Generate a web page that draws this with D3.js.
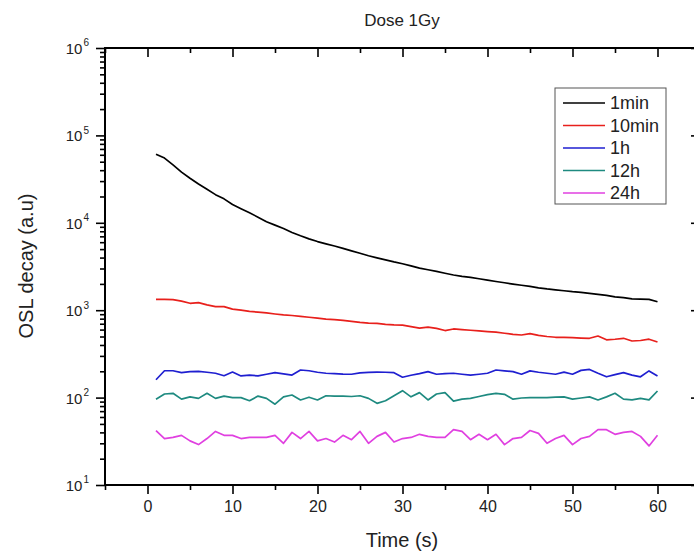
<!DOCTYPE html>
<html>
<head>
<meta charset="utf-8">
<script src="https://cdn.jsdelivr.net/npm/d3@7"></script>
<style>
  body { margin: 0; background: #fff; }
  svg { font-family: "Liberation Sans", Arial, sans-serif; }
</style>
</head>
<body>
<svg class="chart"></svg>
<script>
var times = d3.range(1, 61);

var seriesNames = ["1min", "10min", "1h", "12h", "24h"];
var seriesColors = ["#000000", "#e8201c", "#1f1fd0", "#1e8a80", "#e040e0"];

var min1 = [61000, 55000, 46000, 38000, 32300, 27800, 24200, 21000, 18800, 16200,
  14500, 13000, 11600, 10300, 9400, 8600, 7750, 7100, 6550, 6100,
  5750, 5420, 5100, 4780, 4480, 4200, 3970, 3770, 3570, 3400,
  3220, 3030, 2900, 2780, 2650, 2530, 2440, 2370, 2290, 2210,
  2130, 2060, 1990, 1930, 1870, 1800, 1750, 1710, 1670, 1630,
  1600, 1560, 1520, 1480, 1420, 1390, 1350, 1340, 1330, 1250];

var min10 = [1330, 1330, 1320, 1270, 1200, 1220, 1150, 1100, 1100, 1030,
  1000, 970, 950, 930, 905, 885, 870, 850, 830, 810,
  790, 780, 765, 745, 725, 712, 705, 690, 680, 675,
  650, 625, 640, 620, 585, 610, 600, 590, 580, 570,
  560, 545, 530, 520, 540, 515, 500, 490, 490, 485,
  480, 477, 507, 458, 465, 477, 444, 450, 466, 433];

var h1 = [160, 203, 203, 193, 198, 200, 195, 190, 178, 196,
  177, 181, 177, 185, 193, 187, 181, 207, 203, 195,
  190, 188, 186, 185, 192, 194, 196, 195, 193, 171,
  180, 188, 198, 185, 188, 190, 185, 181, 185, 190,
  207, 202, 198, 185, 202, 195, 190, 185, 196, 185,
  205, 210, 190, 173, 183, 193, 181, 173, 202, 177];

var h12 = [96, 110, 112, 96, 102, 98, 112, 98, 104, 100,
  100, 92, 104, 98, 84, 102, 107, 94, 101, 94,
  105, 104, 104, 103, 105, 98, 86, 92, 105, 120,
  102, 114, 94, 110, 114, 91, 96, 98, 103, 108,
  112, 109, 96, 99, 100, 100, 100, 101, 102, 96,
  99, 102, 94, 102, 112, 96, 94, 98, 94, 119];

var h24 = [42, 34, 35, 37, 32, 29, 34, 41, 37, 37,
  34, 35, 35, 35, 37, 30, 40, 34, 41, 32,
  34, 31, 37, 33, 41, 30, 36, 40, 31, 34,
  35, 38, 36, 35, 35, 43, 41, 33, 38, 33,
  38, 29, 34, 35, 42, 39, 30, 34, 37, 29,
  34, 36, 43, 43, 38, 40, 41, 36, 28, 37];

var allSeries = [min1, min10, h1, h12, h24];

var xTicks = [0, 10, 20, 30, 40, 50, 60];
var yTicks = [10, 100, 1000, 10000, 100000, 1000000];

var W = 694, H = 553;
var pLeft = 105, pRight = 700, pTop = 48, pBottom = 485;

var svg = d3.select(".chart").attr("width", W).attr("height", H);

var x = d3.scaleLinear().domain([-5, 65]).range([pLeft, pRight]);
var y = d3.scaleLog().domain([10, 1000000]).range([pBottom, pTop]);

var xMinor = d3.range(-5, 66, 5).filter(function(d) { return d % 10 !== 0; });
var yMinor = [];
yTicks.slice(0, -1).forEach(function(p) {
  for (var k = 2; k <= 9; k++) yMinor.push(p * k);
});

function styleAxis(g) {
  g.select(".domain").remove();
  g.selectAll("line").attr("stroke", "#000").attr("stroke-width", 1.6);
}

// bottom axis
svg.append("g").attr("transform", "translate(0," + pBottom + ")")
  .call(d3.axisBottom(x).tickValues(xTicks).tickSize(9).tickPadding(7).tickFormat(d3.format("d")))
  .call(styleAxis)
  .selectAll("text").attr("font-size", 16).attr("fill", "#222").attr("font-family", "Liberation Sans, Arial");
svg.append("g").attr("transform", "translate(0," + pBottom + ")")
  .call(d3.axisBottom(x).tickValues(xMinor).tickSize(5).tickFormat(""))
  .call(styleAxis);

// top axis
svg.append("g").attr("transform", "translate(0," + pTop + ")")
  .call(d3.axisTop(x).tickValues(xTicks).tickSize(-9).tickFormat(""))
  .call(styleAxis);
svg.append("g").attr("transform", "translate(0," + pTop + ")")
  .call(d3.axisTop(x).tickValues(xMinor).tickSize(-5).tickFormat(""))
  .call(styleAxis);

// left axis
var yl = svg.append("g").attr("transform", "translate(" + pLeft + ",0)")
  .call(d3.axisLeft(y).tickValues(yTicks).tickSize(9).tickFormat(""))
  .call(styleAxis);
svg.append("g").attr("transform", "translate(" + pLeft + ",0)")
  .call(d3.axisLeft(y).tickValues(yMinor).tickSize(5).tickFormat(""))
  .call(styleAxis);

yl.selectAll(".tick text").remove();
yl.selectAll(".tick").each(function(d) {
  var t = d3.select(this).append("text")
    .attr("x", -16).attr("dy", "0.36em")
    .attr("text-anchor", "end")
    .attr("fill", "#222")
    .attr("font-family", "Liberation Sans, Arial")
    .attr("font-size", 15);
  t.append("tspan").text("10");
  t.append("tspan").attr("font-size", 10).attr("dy", "-0.75em").attr("dx", "1")
    .text(Math.round(Math.log10(d)));
});

// right axis (off the visible edge, ticks point inward)
svg.append("g").attr("transform", "translate(" + pRight + ",0)")
  .call(d3.axisRight(y).tickValues(yTicks).tickSize(-9).tickFormat(""))
  .call(styleAxis);
svg.append("g").attr("transform", "translate(" + pRight + ",0)")
  .call(d3.axisRight(y).tickValues(yMinor).tickSize(-5).tickFormat(""))
  .call(styleAxis);

// frame
svg.append("rect")
  .attr("x", pLeft).attr("y", pTop)
  .attr("width", pRight - pLeft).attr("height", pBottom - pTop)
  .attr("fill", "none").attr("stroke", "#000").attr("stroke-width", 2);

// lines
var line = d3.line()
  .x(function(d, i) { return x(times[i]); })
  .y(function(d) { return y(d); });

allSeries.forEach(function(s, i) {
  svg.append("path")
    .datum(s)
    .attr("d", line)
    .attr("fill", "none")
    .attr("stroke", seriesColors[i])
    .attr("stroke-width", 1.7)
    .attr("stroke-linejoin", "round");
});

// titles
svg.append("text")
  .attr("x", 402).attr("y", 26)
  .attr("text-anchor", "middle")
  .attr("font-size", 17).attr("fill", "#222")
  .text("Dose 1Gy");

svg.append("text")
  .attr("x", 402).attr("y", 547)
  .attr("text-anchor", "middle")
  .attr("font-size", 20).attr("fill", "#222")
  .text("Time (s)");

svg.append("text")
  .attr("transform", "translate(33,266) rotate(-90)")
  .attr("text-anchor", "middle")
  .attr("font-size", 20).attr("fill", "#222")
  .text("OSL decay (a.u)");

// legend
var lg = svg.append("g");
lg.append("rect")
  .attr("x", 555).attr("y", 88).attr("width", 111).attr("height", 116)
  .attr("fill", "#fff").attr("stroke", "#555").attr("stroke-width", 1);

seriesNames.forEach(function(name, i) {
  var ly = 103 + i * 22.5;
  lg.append("line")
    .attr("x1", 563).attr("x2", 605).attr("y1", ly).attr("y2", ly)
    .attr("stroke", seriesColors[i]).attr("stroke-width", 1.7);
  lg.append("text")
    .attr("x", 610).attr("y", ly).attr("dy", "0.36em")
    .attr("font-size", 18).attr("fill", "#222")
    .text(name);
});
</script>
</body>
</html>
